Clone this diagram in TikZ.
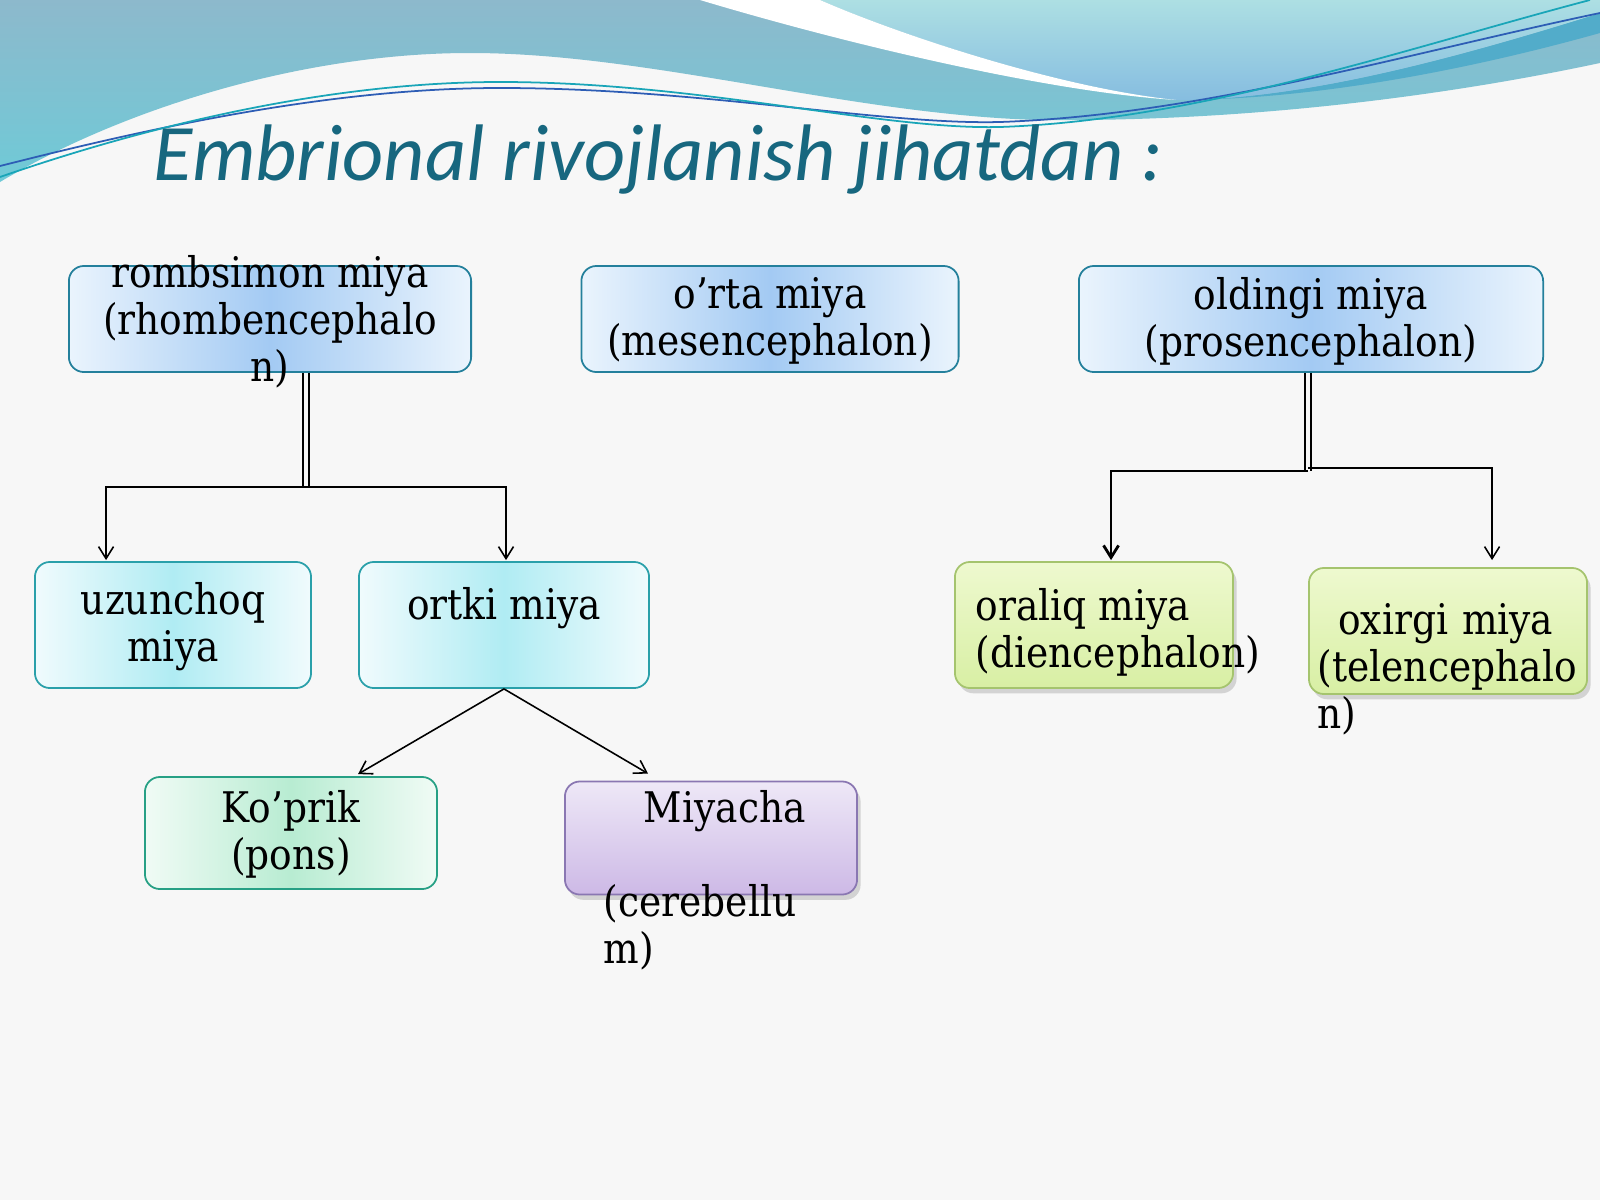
\documentclass[tikz,border=0pt]{standalone}
\usepackage{fontspec}
\setmainfont[FakeStretch=0.89]{DejaVu Serif}
\newfontfamily\titlefont{Carlito}
\usepackage{tikz}
\usetikzlibrary{positioning}
\usetikzlibrary{calc,shadows,arrows.meta}

\definecolor{bgwhite}{HTML}{F7F7F7}
\definecolor{waveTop}{HTML}{8DB9CC}
\definecolor{waveLow}{HTML}{6FCAD7}
\definecolor{waveBand}{HTML}{52ACCA}
\definecolor{lightTop}{HTML}{ADDFE3}
\definecolor{lightLow}{HTML}{86BDE0}
\definecolor{lineBlue}{HTML}{2D5DB5}
\definecolor{lineTeal}{HTML}{19A5B8}
\definecolor{titleTeal}{HTML}{17677F}
\definecolor{headBorder}{HTML}{24809C}
\definecolor{headEdge}{HTML}{EAF4FD}
\definecolor{headMid}{HTML}{A3CAF3}
\definecolor{cyanBorder}{HTML}{2AA0AA}
\definecolor{cyanEdge}{HTML}{F0FBFD}
\definecolor{cyanMid}{HTML}{B0ECF3}
\definecolor{greenBorder}{HTML}{A5C46E}
\definecolor{greenTop}{HTML}{EEF9CF}
\definecolor{greenLow}{HTML}{D8EFA4}
\definecolor{mintBorder}{HTML}{27A085}
\definecolor{mintEdge}{HTML}{F0FBF5}
\definecolor{mintMid}{HTML}{B8ECD2}
\definecolor{violetBorder}{HTML}{8A77B2}
\definecolor{violetTop}{HTML}{EEE8F7}
\definecolor{violetLow}{HTML}{CDB9E6}

\tikzset{
	box/.style={draw, rounded corners=1.5mm, line width=0.5pt, inner sep=0pt},
	headbox/.style={box, draw=headBorder, left color=headEdge, right color=headEdge, middle color=headMid},
	cyanbox/.style={box, draw=cyanBorder, left color=cyanEdge, right color=cyanEdge, middle color=cyanMid},
	greenbox/.style={box, draw=greenBorder, top color=greenTop, bottom color=greenLow,
		drop shadow={shadow xshift=1pt, shadow yshift=-1.5pt, opacity=0.3}},
	mintbox/.style={box, draw=mintBorder, left color=mintEdge, right color=mintEdge, middle color=mintMid},
	violetbox/.style={box, draw=violetBorder, top color=violetTop, bottom color=violetLow,
		drop shadow={shadow xshift=1pt, shadow yshift=-1.5pt, opacity=0.3}},
	txt/.style={inner sep=0pt, align=center, font=\fontsize{12pt}{13.4pt}\selectfont},
	stem/.style={line width=0.4pt, double=bgwhite, double distance=1.3pt},
	branch/.style={line width=0.45pt, -{Straight Barb[length=1.2mm,width=1.5mm]}},
}

\begin{document}
\begin{tikzpicture}[x=0.01cm, y=-0.01cm]
		
		% ---------------------
		% Proper size --- Bounding box
		\useasboundingbox (0,0) rectangle (1600,1200);
		\fill[bgwhite] (0,0) rectangle (1600,1200);
		
		% ---------------------
		% Waves on top
		\shade[top color=waveTop, bottom color=waveLow] (0,0) -- (1600,0) -- (1600,63)
			.. controls (1450,95) and (1250,122) .. (1040,120)
			.. controls (850,115) and (650,53) .. (470,53)
			.. controls (300,53) and (120,110) .. (0,182) -- cycle;
		\fill[waveBand] (1176,100) .. controls (1300,100) and (1450,60) .. (1600,13)
			-- (1600,33) .. controls (1450,75) and (1300,100) .. (1176,100) -- cycle;
		\shade[top color=lightTop, bottom color=lightLow] (820,0) -- (1600,0) -- (1600,13)
			.. controls (1450,60) and (1300,100) .. (1176,100)
			.. controls (1060,88) and (900,35) .. (820,0) -- cycle;
		\fill[white] (700,0) -- (820,0) .. controls (900,35) and (1060,88) .. (1176,100)
			.. controls (1050,92) and (850,45) .. (700,0) -- cycle;
		
		\draw[lineBlue, line width=0.5pt] (0,166) .. controls (150,128) and (330,88) .. (500,88)
			.. controls (700,88) and (880,125) .. (1000,122)
			.. controls (1200,115) and (1400,55) .. (1600,13);
		\draw[lineTeal, line width=0.5pt] (0,177) .. controls (150,125) and (330,82) .. (500,82)
			.. controls (700,82) and (880,130) .. (1000,127)
			.. controls (1200,120) and (1400,50) .. (1590,0);
		
		% ---------------------
		% Title
		\node[anchor=base west, inner sep=0pt, text=titleTeal, font=\titlefont\itshape\fontsize{22.8pt}{24pt}\selectfont] (title) at (153,180) {Embrional rivojlanish jihatdan :};
		
		% ---------------------
		% Boxes
		\node[headbox, minimum width=4.02cm, minimum height=1.06cm] (romb) at (270,319) {};
		\node[headbox, minimum width=3.77cm, minimum height=1.06cm] (orta) at (770,319) {};
		\node[headbox, minimum width=4.64cm, minimum height=1.06cm] (oldingi) at (1311,319) {};
		
		\node[cyanbox, minimum width=2.76cm, minimum height=1.26cm] (uzun) at (173,625) {};
		\node[cyanbox, minimum width=2.90cm, minimum height=1.26cm] (ortki) at (504,625) {};
		
		\node[greenbox, minimum width=2.78cm, minimum height=1.26cm] (oraliq) at (1094,625) {};
		\node[greenbox, minimum width=2.78cm, minimum height=1.26cm] (oxirgi) at (1448,631) {};
		
		\node[mintbox, minimum width=2.92cm, minimum height=1.12cm] (kopr) at (291,833) {};
		\node[violetbox, minimum width=2.92cm, minimum height=1.13cm] (miyacha) at (711,838) {};
		
		% ---------------------
		% Texts
		\node[txt] (romb-t) at ($(romb.center)+(0,3)$) {rombsimon miya\\(rhombencephalo\\n)};
		\node[txt] (orta-t) at ($(orta.center)+(0,2)$) {o’rta miya\\(mesencephalon)};
		\node[txt] (oldingi-t) at ($(oldingi.center)+(0,2)$) {oldingi miya\\(prosencephalon)};
		\node[txt] (uzun-t) at ($(uzun.center)+(0,2)$) {uzunchoq\\miya};
		\node[txt] (ortki-t) at ($(ortki.center)+(0,2)$) {ortki miya\\\mbox{}};
		\node[txt, anchor=west, align=left] (oraliq-t) at (975,632) {oraliq miya\\(diencephalon)};
		\node[txt, anchor=west, align=left, text width=2.56cm] (oxirgi-t) at (1317,669) {\makebox[\linewidth]{oxirgi miya}\\(telencephalo\\n)};
		\node[txt] (kopr-t) at ($(kopr.center)+(0,1)$) {Ko’prik\\(pons)};
		\node[txt, anchor=west, align=left, text width=2.42cm] (miyacha-t) at (603,880) {\makebox[\linewidth]{Miyacha}\\\mbox{}\\(cerebellu\\m)};
		
		% ---------------------
		% Connectors
		\coordinate (rombS) at ($(romb.south)+(36,0)$);
		\coordinate (rombJ) at (306,487);
		\draw[stem] (rombS) -- (rombJ);
		\draw[branch] (rombJ) -| ($(uzun.north west)+(72,-1)$);
		\draw[branch] (rombJ) -| ($(ortki.north)+(2,-1)$);
		
		\coordinate (oldS) at ($(oldingi.south)+(-3,0)$);
		\coordinate (oldJ) at (1308,471);
		\draw[stem] (oldS) -- (oldJ);
		\draw[branch, line width=0.8pt] (oldJ) -| ($(oraliq.north west)+(157,-1)$);
		\draw[branch] ($(oldJ)+(0,-3)$) -| ($(oxirgi.north west)+(184,-7)$);
		
		\draw[branch] (ortki.south) -- ($(kopr.north west)+(214,-2)$);
		\draw[branch] (ortki.south) -- ($(miyacha.north west)+(84,-7)$);
		
\end{tikzpicture}
\end{document}
